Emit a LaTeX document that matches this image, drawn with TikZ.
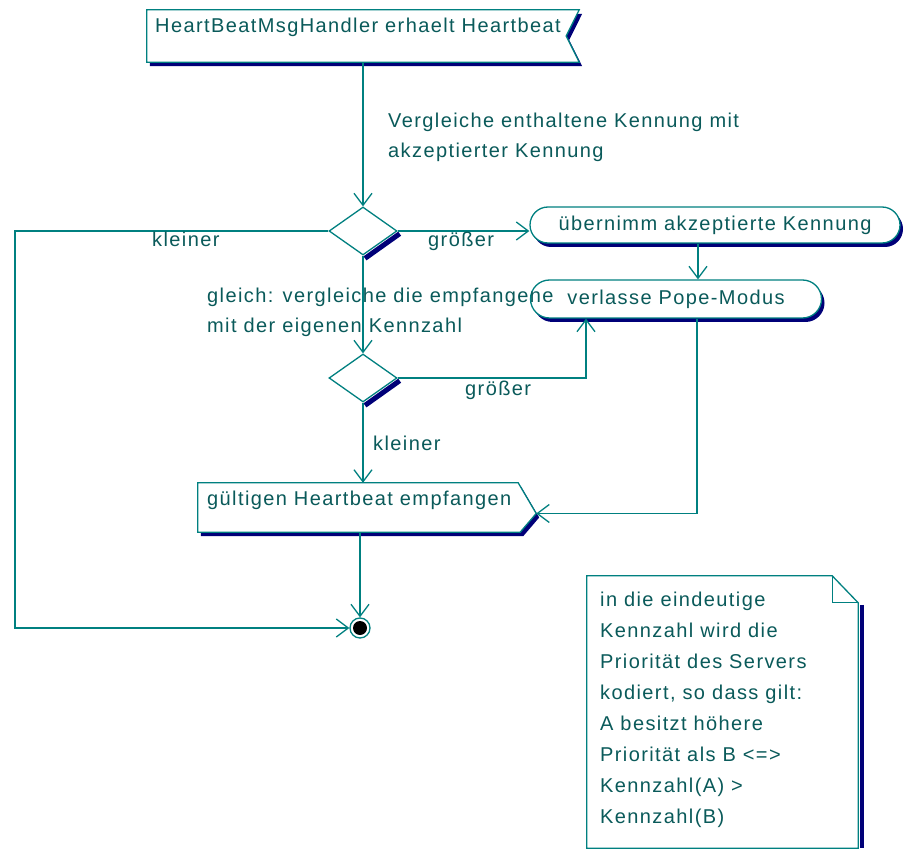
\documentclass[tikz,border=0pt]{standalone}
\usepackage{fontspec}
\newfontfamily\umlfont[LetterSpace=7]{Liberation Sans}
\usepackage{tikz}
\usetikzlibrary{positioning,arrows.meta,shapes.geometric,shapes.misc,shadows}
\definecolor{umlteal}{RGB}{0,128,128}
\definecolor{umltext}{RGB}{10,90,90}
\definecolor{umlnavy}{RGB}{0,0,120}

\begin{document}
\begin{tikzpicture}[x=1pt, y=-1pt,
          lbl/.style={text=umltext, font=\umlfont\fontsize{20}{30}\selectfont, inner sep=0pt, align=left},
          edge/.style={draw=umlteal, line width=1.3pt},
          flow/.style={edge, -{Straight Barb[length=12pt, width=18pt]}},
          boxshadow/.style={drop shadow={shadow xshift=3pt, shadow yshift=-4pt, fill=umlnavy, opacity=1}},
          area/.style={rectangle, inner sep=0pt},
          activity/.style={rounded rectangle, draw=umlteal, fill=white, line width=1.3pt, inner sep=0pt,
                           text=umltext, font=\umlfont\fontsize{20}{30}\selectfont, boxshadow},
          decision/.style={diamond, draw=umlteal, fill=white, line width=1.3pt,
                           minimum width=68pt, minimum height=48pt, inner sep=0pt},
          dshadow/.style={draw=umlnavy, line width=5pt},
          final/.style={circle, draw=umlteal, line width=1.3pt, minimum size=20pt, inner sep=0pt},
        ]
        \useasboundingbox[fill=white] (0,0) rectangle (905,850);

        % signal receipt
        \node[area, minimum width=432pt, minimum height=52pt] (recv) at (363,36) {};
        \draw[edge, fill=white, boxshadow] (recv.north west) -- (recv.north east) -- ([xshift=-13pt]recv.east)
          -- (recv.south east) -- (recv.south west) -- cycle;
        \node[lbl, anchor=base west] (recvtxt) at (155,33) {HeartBeatMsgHandler erhaelt Heartbeat};

        % decisions
        \node[decision] (dec1) at (363,231) {};
        \draw[dshadow] ([shift={(2,2.7)}]dec1.east) -- ([shift={(2,2.7)}]dec1.south);
        \node[decision] (dec2) at (363,378) {};
        \draw[dshadow] ([shift={(2,2.7)}]dec2.east) -- ([shift={(2,2.7)}]dec2.south);

        % activities
        \node[activity, minimum width=370pt, minimum height=36pt] (take) at (715,225) {übernimm akzeptierte Kennung};
        \node[activity, minimum width=291pt, minimum height=38pt] (leave) at (676,299) {verlasse Pope-Modus};

        % signal sending
        \node[area, minimum width=338pt, minimum height=49pt] (valid) at (367,507.5) {};
        \coordinate (validtip) at ([yshift=-6pt]valid.east);
        \draw[edge, fill=white, boxshadow] (valid.north west) -- ([xshift=-18pt]valid.north east) -- (validtip)
          -- ([xshift=-16pt]valid.south east) -- (valid.south west) -- cycle;
        \node[lbl, anchor=base west] (validtxt) at (207,505) {gültigen Heartbeat empfangen};

        \node[final] (end) at (360,628) {};
        \fill[black] (end.center) circle (7);

        % note
        \node[area, minimum width=271pt, minimum height=272pt] (note) at (722.5,712) {};
        \draw[umlnavy, line width=4pt] ([shift={(3.5,29)}]note.north east) -- ([xshift=3.5pt]note.south east);
        \draw[edge, fill=white] (note.north west) -- ([xshift=-26pt]note.north east) -- ([yshift=-27pt]note.north east)
          -- (note.south east) -- (note.south west) -- cycle;
        \draw[edge] ([xshift=-26pt]note.north east) |- ([yshift=-27pt]note.north east);
        \node[lbl, anchor=base west, font=\umlfont\fontsize{20}{31}\selectfont] (notetxt) at (600,823)
          {in die eindeutige\\Kennzahl wird die\\Priorität des Servers\\kodiert, so dass gilt:\\A besitzt höhere\\Priorität als B <=>\\Kennzahl(A) >\\Kennzahl(B)};

        % transitions
        \coordinate (loop) at (15,0);
        \draw[flow] (recv.south -| dec1.north) -- (dec1.north);
        \draw[flow] (dec1.west) -| (loop |- end.west) -- (end.west);
        \draw[flow] (dec1.east) -- (dec1.east -| take.west);
        \draw[flow] ([xshift=-17pt]take.south) -- ([xshift=-17pt]take.south |- leave.north);
        \draw[flow] (dec1.south) -- (dec2.north);
        \draw[flow] (dec2.east) -| ([xshift=-90pt]leave.south);
        \draw[flow] (dec2.south) -- (dec2.south |- valid.north);
        \draw[flow] ([xshift=21pt]leave.south) |- (validtip);
        \draw[flow] (end |- valid.south) -- (end.north);

        \node[lbl, anchor=base west] (cmp) at (388,158) {Vergleiche enthaltene Kennung mit\\akzeptierter Kennung};
        \node[lbl, anchor=base west] (less1) at (152,247) {kleiner};
        \node[lbl, anchor=base west] (gt1) at (428,247) {größer};
        \node[lbl, anchor=base west] (eq) at (207,333) {gleich: vergleiche die empfangene\\mit der eigenen Kennzahl};
        \node[lbl, anchor=base west] (gt2) at (465,395) {größer};
        \node[lbl, anchor=base west] (less2) at (373,450) {kleiner};
      \end{tikzpicture}
\end{document}
